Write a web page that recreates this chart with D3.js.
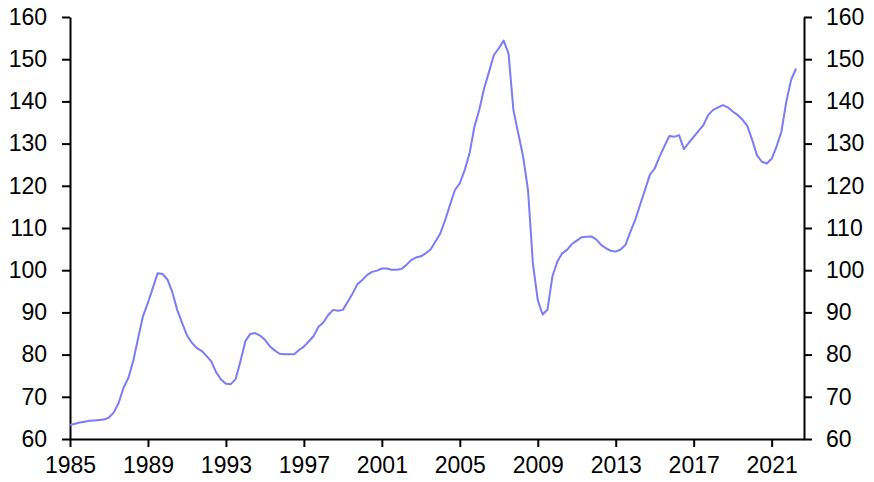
<!DOCTYPE html>
<html>
<head>
<meta charset="utf-8">
<script src="https://cdn.jsdelivr.net/npm/d3@7"></script>
<style>
  body { margin: 0; background: #fff; }
  svg text { font-family: "Liberation Sans", Arial, sans-serif; }
</style>
</head>
<body>
<svg class="target"></svg>
<script>
// quarterly index, 1985 Q1 .. 2022 Q2
var start_year = 1985;
var values = [
  63.3, 63.6, 63.9, 64.1, 64.3, 64.4, 64.5, 64.6,
  65.1, 66.3, 68.6, 72.2, 74.5, 78.6, 84.0, 89.2,
  92.3, 95.8, 99.3, 99.1, 97.8, 94.8, 90.6, 87.5,
  84.6, 82.8, 81.6, 80.9, 79.7, 78.4, 75.8, 74.1,
  73.1, 73.0, 74.2, 78.5, 83.2, 84.9, 85.1, 84.5,
  83.5, 82.0, 81.0, 80.2, 80.1, 80.1, 80.1, 81.1,
  81.9, 83.1, 84.4, 86.6, 87.6, 89.4, 90.6, 90.4,
  90.6, 92.5, 94.5, 96.7, 97.7, 98.9, 99.6, 99.9,
  100.4, 100.4, 100.1, 100.1, 100.3, 101.2, 102.4, 103.0,
  103.3, 104.0, 104.9, 106.8, 108.7, 111.9, 115.5, 119.0,
  120.6, 123.7, 127.7, 134.0, 138.0, 143.1, 147.0, 151.0,
  152.6, 154.4, 151.4, 138.0, 132.4, 126.9, 119.0, 101.6,
  92.9, 89.5, 90.7, 98.5, 102.0, 104.0, 104.8, 106.2,
  107.0, 107.8, 107.9, 108.0, 107.3, 106.0, 105.2, 104.6,
  104.4, 104.9, 106.0, 109.1, 111.9, 115.5, 119.0, 122.6,
  124.1, 126.9, 129.4, 131.8, 131.6, 132.0, 128.7, 130.2,
  131.6, 133.0, 134.4, 136.8, 138.0, 138.6, 139.1, 138.6,
  137.6, 136.8, 135.7, 134.2, 130.9, 127.2, 125.7, 125.3,
  126.4, 129.3, 132.8, 139.9, 145.1, 147.8
];
var year_ticks = [1985, 1989, 1993, 1997, 2001, 2005, 2009, 2013, 2017, 2021];
var value_ticks = [60, 70, 80, 90, 100, 110, 120, 130, 140, 150, 160];

var view_w = 874;
var view_h = 482;
var margin = { left: 70, right: 70, top: 17, bottom: 43 };

var svg = d3.select(".target")
  .attr("width", view_w)
  .attr("height", view_h)
  .attr("viewBox", [0, 0, view_w, view_h]);

var x = d3.scaleLinear()
  .domain([start_year, 2022.66])
  .range([margin.left, view_w - margin.right]);

var y = d3.scaleLinear()
  .domain([60, 160])
  .range([view_h - margin.bottom, margin.top]);

var style_axis = function (g) {
  g.selectAll("path").attr("stroke", "#000").attr("stroke-width", 2);
  g.selectAll("line").attr("stroke", "#000").attr("stroke-width", 2);
  g.selectAll("text").attr("fill", "#000").style("font-size", "23px");
}

svg.append("g")
  .attr("transform", "translate(0," + y(60) + ")")
  .call(d3.axisBottom(x).tickValues(year_ticks).tickFormat(d3.format("d"))
    .tickSizeInner(8).tickSizeOuter(0).tickPadding(10))
  .call(style_axis);

svg.append("g")
  .attr("transform", "translate(" + x.range()[0] + ",0)")
  .call(d3.axisLeft(y).tickValues(value_ticks)
    .tickSizeInner(8).tickSizeOuter(0).tickPadding(15))
  .call(style_axis);

svg.append("g")
  .attr("transform", "translate(" + x.range()[1] + ",0)")
  .call(d3.axisRight(y).tickValues(value_ticks)
    .tickSizeInner(8).tickSizeOuter(0).tickPadding(14))
  .call(style_axis);

var line = d3.line()
  .x(function (d, i) { return x(start_year + i / 4); })
  .y(function (d) { return y(d); });

svg.append("path")
  .datum(values)
  .attr("d", line)
  .attr("fill", "none")
  .attr("stroke", "#7b7bf8")
  .attr("stroke-width", 2)
  .attr("stroke-linejoin", "round");
</script>
</body>
</html>
